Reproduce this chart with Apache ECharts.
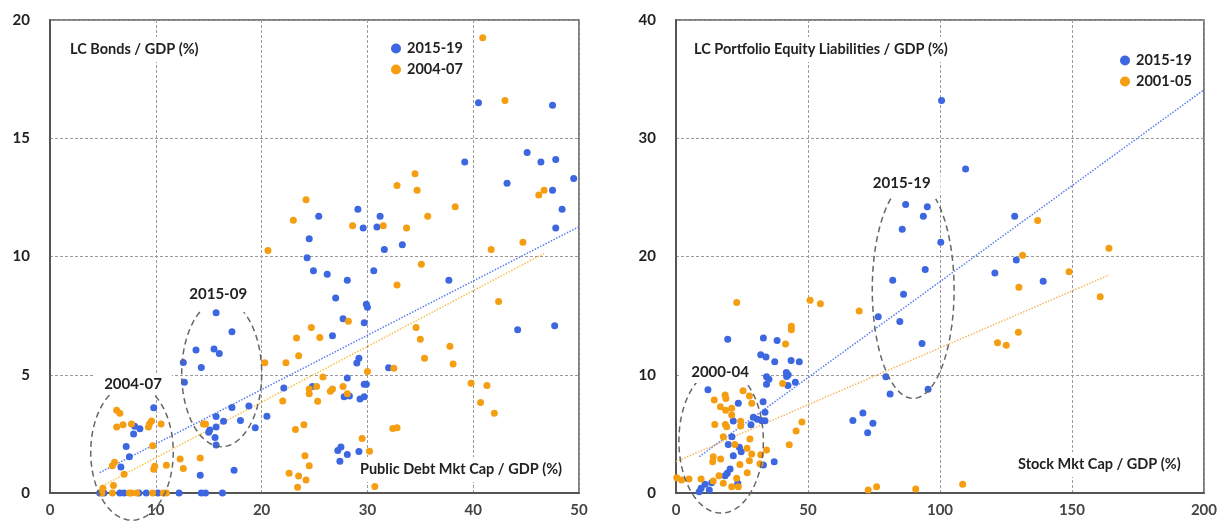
<!DOCTYPE html>
<html lang="en">
<head>
<meta charset="UTF-8">
<title>LC Bonds and Equity vs Market Cap</title>
<script src="https://cdn.jsdelivr.net/npm/echarts@6/dist/echarts.min.js"></script>
<style>
  html, body { margin: 0; padding: 0; background: #fff; }
  #main { width: 1220px; height: 521px; }
</style>
</head>
<body>
<div id="main"></div>
<script type="text/javascript">
// ---- left panel: LC bonds vs public debt mkt cap ----
const bondsRecent = [ // 2015-19
  [40.5,16.5],[47.5,16.4],[45.1,14.4],[46.4,14.0],[47.8,14.1],[49.5,13.3],[39.2,14.0],[43.2,13.1],[47.5,12.8],[48.4,12.0],[47.8,11.2],
  [25.4,11.7],[24.5,10.75],[24.3,9.95],[29.1,12.0],[29.6,11.2],[31.2,11.7],[30.9,11.25],[33.3,10.5],[31.6,10.3],
  [24.9,9.4],[26.2,9.25],[28.1,9.0],[30.6,9.4],[37.7,9.0],[27.0,8.25],[27.7,7.37],[29.9,7.98],[30.0,7.85],[29.7,7.2],[26.7,6.65],
  [44.2,6.9],[47.7,7.07],[29.2,5.7],[29.0,5.5],[32.0,5.3],[28.1,4.86],[29.9,4.6],[29.7,4.6],[24.8,4.5],[27.8,4.07],[28.3,4.1],[29.3,3.97],[29.7,4.07],
  [27.2,1.8],[27.5,1.95],[28.1,1.63],[29.2,1.76],[27.4,1.34],
  [15.7,7.62],[17.2,6.82],[13.8,6.05],[15.5,6.09],[16.0,5.9],[12.6,5.52],[14.3,5.31],[12.7,4.68],
  [22.1,4.44],[20.5,3.24],
  [17.2,3.61],[18.8,3.68],[15.7,3.23],[16.4,3.03],[18.0,3.07],[19.4,2.76],[15.7,2.79],[15.1,2.66],[15.0,2.57],[15.6,2.35],[15.7,2.03],[17.4,0.96],[14.2,0.75],
  [9.8,3.6],[8.5,2.72],[8.0,2.82],[7.9,2.49],[7.2,1.97],[7.5,1.53],[6.7,1.1],
  [4.7,0],[5.1,0],[6.6,0],[7.0,0],[8.4,0],[9.1,0],[10.2,0],[12.2,0],[14.3,0],[14.7,0],[16.3,0]
];
const bondsEarly = [ // 2004-07
  [40.9,19.25],[43.0,16.6],[46.2,12.6],[46.7,12.8],[44.7,10.6],[41.7,10.3],[24.2,12.4],[23.0,11.53],[28.6,11.3],[31.5,11.3],
  [34.5,13.5],[32.8,13.0],[34.7,12.8],[35.7,11.7],[38.3,12.1],[33.7,11.2],[35.1,9.67],[20.6,10.25],
  [32.8,8.8],[28.2,7.26],[24.7,7.0],[25.5,6.57],[42.4,8.1],[34.6,7.0],[35.0,6.5],[35.4,5.7],[37.8,6.2],[38.1,5.45],
  [32.5,5.27],[30.0,5.14],[25.8,4.9],[25.2,4.5],[24.5,4.4],[24.5,4.2],[26.7,4.4],[26.5,4.3],[27.7,4.5],[28.1,4.2],[25.3,3.88],
  [39.8,4.64],[41.3,4.55],[40.7,3.83],[42.0,3.37],[24.0,2.89],[32.4,2.73],[32.8,2.76],[29.5,2.3],[30.2,1.77],[24.1,1.58],[24.5,1.15],[24.2,0.55],[30.7,0.27],
  [20.3,5.51],[22.3,5.51],[23.3,6.55],[23.5,5.8],[22.0,3.89],[23.2,2.69],[22.6,0.83],[23.5,0.72],[23.4,0.24],
  [14.5,2.92],[14.7,2.92],[14.2,1.48],[12.3,1.44],[12.6,1.04],[11.0,1.17],[9.9,1.13],[9.8,1.0],[9.7,2.0],[10.5,2.92],[9.6,3.04],[9.4,2.92],[9.3,2.79],
  [7.7,2.92],[6.9,2.89],[6.3,2.79],[6.3,3.5],[6.6,3.37],[6.1,1.3],[5.9,1.15],[7.0,0.79],[6.0,0.32],[5.0,0.2],
  [4.9,0],[5.9,0],[7.5,0],[7.7,0],[8.2,0],[9.7,0],[10.7,0],[11.0,0]
];
const bondsTrendRecent = [[4.7,0.86],[50,11.26]];
const bondsTrendEarly = [[4.7,0.24],[46.7,10.13]];
// ellipses: centre x, centre y, radius x, radius y, label x, label y
const bondsRings = [[7.75,1.73,3.9,2.88,7.85,4.6],[16.23,5.06,3.78,3.1,15.9,8.4]];
const bondsRingText = ['2004-07','2015-09'];

// ---- right panel: LC portfolio equity vs stock mkt cap ----
const equityRecent = [ // 2015-19
  [100.6,33.2],[109.7,27.4],[87.0,24.4],[95.2,24.2],[93.7,23.4],[85.7,22.3],[100.3,21.2],[128.3,23.4],[128.9,19.7],[94.4,18.9],
  [120.8,18.6],[139.1,17.9],[86.2,16.8],[84.8,14.5],[93.2,12.65],[95.5,8.77],[82.1,18.0],[76.6,14.9],[79.5,9.83],[81.1,8.37],
  [67.0,6.14],[70.8,6.76],[74.6,5.89],[72.6,5.1],
  [19.6,13.0],[33.1,13.1],[38.3,12.9],[32.1,11.7],[34.1,11.5],[37.4,11.1],[43.6,11.2],[46.7,11.1],[34.3,9.83],[35.2,9.61],[34.3,9.19],
  [41.8,10.2],[42.5,10.0],[41.9,9.86],[42.4,9.1],[45.2,9.36],[12.1,8.73],
  [23.6,7.6],[33.0,7.72],[33.7,6.82],[29.3,6.4],[30.8,6.23],[28.4,5.77],[32.5,6.1],[33.7,6.1],[21.7,6.09],[21.2,4.76],[19.8,4.1],
  [24.0,3.86],[24.7,3.49],[21.7,3.16],[33.1,2.37],[37.2,2.65],[20.5,2.03],[19.4,1.66],[18.6,1.46],[23.4,0.82],[13.5,0.87],[11.0,0.73],
  [9.5,0.4],[12.6,0.25],[8.8,0.11]
];
const equityEarly = [ // 2001-05
  [137.0,23.05],[164,20.7],[131.3,20.1],[148.9,18.7],[129.9,17.4],[160.7,16.6],[129.7,13.6],[121.8,12.7],[125.1,12.5],
  [90.8,0.34],[108.6,0.73],[72.8,0.25],[76.0,0.53],
  [50.8,16.3],[54.7,16.0],[69.4,15.4],[43.7,14.1],[43.7,13.8],[41.5,12.6],[40.4,9.27],[23.0,16.1],
  [18.6,8.28],[18.9,8.0],[14.5,7.86],[25.4,8.65],[27.8,8.2],[16.8,7.3],[21.1,7.16],[18.8,7.0],[21.1,6.6],[28.7,7.58],[24.5,6.06],[24.5,5.66],
  [14.7,5.8],[18.7,5.8],[19.2,5.6],[47.7,6.0],[45.5,5.24],[42.9,4.08],[17.9,4.76],[28.0,4.56],[22.3,4.1],[26.9,3.78],[34.3,3.63],[32.1,3.24],
  [28.7,3.3],[14.1,3.07],[13.9,2.65],[16.9,2.87],[27.8,2.73],[24.2,2.42],[31.8,2.48],[16.3,1.46],[27.0,1.72],[23.0,1.24],[14.1,1.01],
  [17.9,0.82],[21.1,0.53],[23.6,0.53],[9.5,1.18],[0.3,1.3],[2.1,1.1],[4.9,1.18]
];
const equityTrendRecent = [[8.8,3.07],[200,34.1]];
const equityTrendEarly = [[0,2.65],[164,18.43]];
const equityRings = [[17.1,4.4,16.0,6.1,16.7,10.2],[89.85,17.2,15.5,9.2,85.5,26.2]];
const equityRingText = ['2000-04','2015-19'];

const blue = '#3c67e0', orange = '#f59e12';
const font = 'Lato, "Open Sans", sans-serif';

// dashed ellipse with a gap at the top where the label sits
function ringRenderer(texts) {
  return function (params, api) {
    const c = api.coord([api.value(0), api.value(1)]);
    const s = api.size([api.value(2), api.value(3)]);
    const l = api.coord([api.value(4), api.value(5)]);
    const gap = 0.58, pts = [];
    for (let t = Math.PI / 2 + gap; t <= Math.PI * 2.5 - gap + 0.001; t += 0.04) {
      pts.push([c[0] + s[0] * Math.cos(t), c[1] - s[1] * Math.sin(t)]);
    }
    return {
      type: 'group',
      children: [
        { type: 'polyline', shape: { points: pts },
          style: { stroke: '#666', lineWidth: 1.5, lineDash: [6, 4], fill: null } },
        { type: 'text', x: l[0], y: l[1], z2: 10,
          style: { text: texts[params.dataIndex], fontSize: 15, fontWeight: 'bold', fontFamily: font,
                   fill: '#222', align: 'center', verticalAlign: 'middle',
                   backgroundColor: '#fff', padding: [3, 10] } }
      ]
    };
  };
}

function axisX(idx, max, interval) {
  return {
    gridIndex: idx, type: 'value', min: 0, max: max, interval: interval,
    axisLine: { show: true, onZero: false, lineStyle: { color: '#555', width: 2 } },
    axisTick: { show: false },
    axisLabel: { margin: 10, color: '#444', fontSize: 15, fontWeight: 'bold', fontFamily: font },
    splitLine: { show: true, lineStyle: { color: '#9a9a9a', type: [3, 2], width: 1 } }
  };
}
function axisY(idx, max, interval) {
  return {
    gridIndex: idx, type: 'value', min: 0, max: max, interval: interval,
    axisLine: { show: true, lineStyle: { color: '#555', width: 2 } },
    axisTick: { show: false },
    axisLabel: { margin: 20, color: '#222', fontSize: 15, fontWeight: 'bold', fontFamily: font },
    splitLine: { show: true, lineStyle: { color: '#9a9a9a', type: [3, 2], width: 1 } }
  };
}
function dots(name, data, color, i) {
  return { name: name, type: 'scatter', xAxisIndex: i, yAxisIndex: i, data: data,
           symbolSize: 7, itemStyle: { color: color, opacity: 1 }, z: 3 };
}
function trend(data, color, i) {
  return { type: 'line', xAxisIndex: i, yAxisIndex: i, data: data, symbol: 'none',
           lineStyle: { color: color, width: 1.5, type: 'dotted' }, z: 2, silent: true };
}
const titleStyle = { fontSize: 14.5, fontWeight: 'bold', color: '#222', fontFamily: font };
function boxTitle(text, left, top) {
  return { text: text, left: left, top: top, padding: [5, 6], backgroundColor: '#fff', textStyle: titleStyle };
}

let options = {
  animation: false,
  backgroundColor: '#fff',
  grid: [
    { left: 50, right: 641, top: 20, bottom: 28, show: true, borderColor: '#555', borderWidth: 1.5 },
    { left: 676, right: 16, top: 20, bottom: 28, show: true, borderColor: '#555', borderWidth: 1.5 }
  ],
  xAxis: [axisX(0, 50, 10), axisX(1, 200, 50)],
  yAxis: [axisY(0, 20, 5), axisY(1, 40, 10)],
  title: [
    boxTitle('LC Bonds / GDP (%)', 64, 37),
    boxTitle('Public Debt Mkt Cap / GDP (%)', 354, 457),
    boxTitle('LC Portfolio Equity Liabilities / GDP (%)', 688, 37),
    boxTitle('Stock Mkt Cap / GDP (%)', 1012, 452)
  ],
  legend: [
    { data: ['2015-19', '2004-07'], left: 386, top: 36, orient: 'vertical', icon: 'circle',
      itemWidth: 12, itemHeight: 10, itemGap: 6, textStyle: titleStyle },
    { data: ['2015-19', '2001-05'], left: 1115, top: 48, orient: 'vertical', icon: 'circle',
      itemWidth: 12, itemHeight: 10, itemGap: 6, textStyle: titleStyle }
  ],
  series: [
    trend(bondsTrendRecent, '#5a7ef0', 0),
    trend(bondsTrendEarly, '#f7c24a', 0),
    dots('2015-19', bondsRecent, blue, 0),
    dots('2004-07', bondsEarly, orange, 0),
    { type: 'custom', xAxisIndex: 0, yAxisIndex: 0, data: bondsRings, clip: false, z: 4,
      renderItem: ringRenderer(bondsRingText), silent: true },
    trend(equityTrendRecent, '#5a7ef0', 1),
    trend(equityTrendEarly, '#f7b860', 1),
    dots('2015-19', equityRecent, blue, 1),
    dots('2001-05', equityEarly, orange, 1),
    { type: 'custom', xAxisIndex: 1, yAxisIndex: 1, data: equityRings, clip: false, z: 4,
      renderItem: ringRenderer(equityRingText), silent: true }
  ]
};
let myChart = echarts.init(document.getElementById('main'));
myChart.setOption(options);
</script>
</body>
</html>
